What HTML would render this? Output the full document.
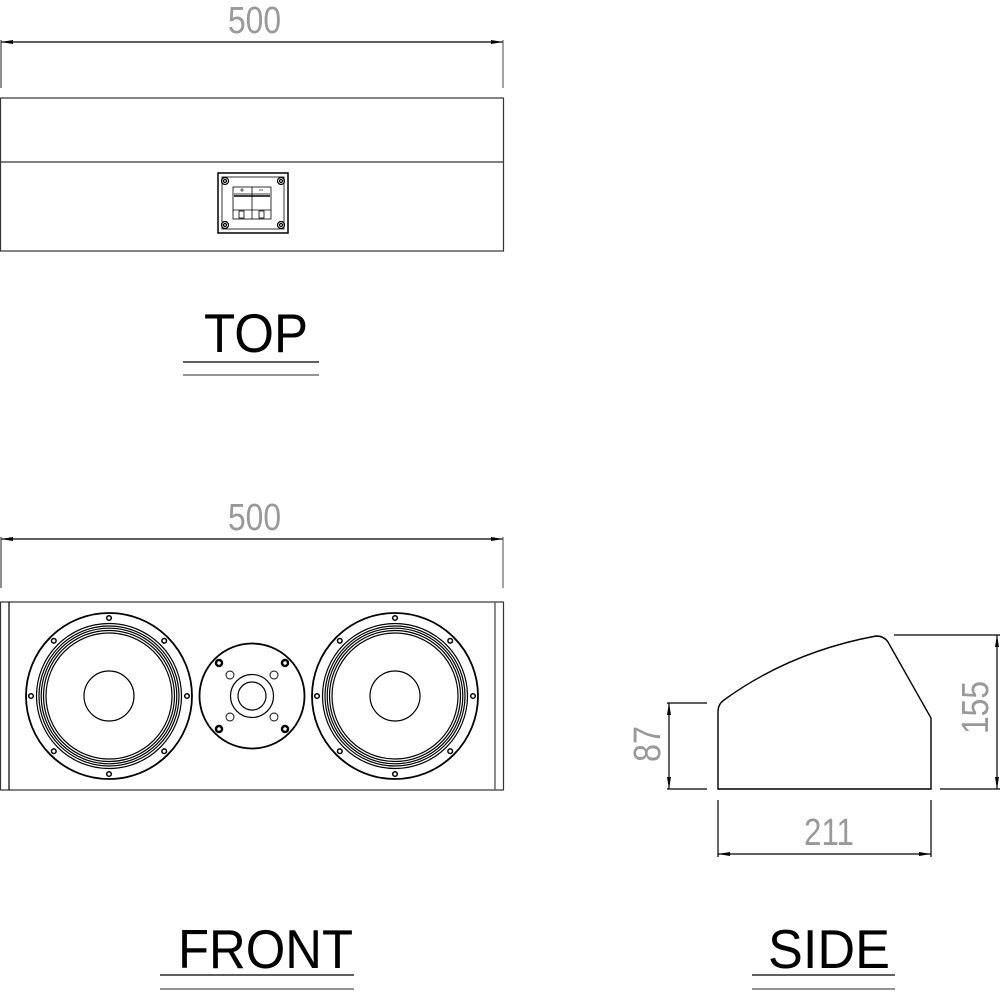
<!DOCTYPE html>
<html><head><meta charset="utf-8"><style>
html,body{margin:0;padding:0;background:#fff}
svg{display:block}
.t{font-family:"Liberation Sans",sans-serif}
</style></head><body>
<svg width="1000" height="991" viewBox="0 0 1000 991" xmlns="http://www.w3.org/2000/svg">
<defs>
<marker id="a" viewBox="0 0 12 4" refX="12" refY="2" markerWidth="12" markerHeight="4" orient="auto-start-reverse" markerUnits="userSpaceOnUse"><path d="M0,0 L12,2 L0,4 z" fill="#000"/></marker>
</defs>
<g fill="none" stroke="#000" stroke-width="1.2">
<line x1="1" y1="42" x2="503" y2="42" marker-start="url(#a)" marker-end="url(#a)"/>
<line x1="1" y1="40" x2="1" y2="88" stroke="#444"/>
<line x1="503" y1="40" x2="503" y2="88" stroke="#666"/>
<rect x="0.5" y="98" width="503" height="153" stroke="#333"/>
<line x1="0" y1="162" x2="504" y2="162" stroke="#333"/>
<rect x="218" y="173" width="70" height="60" stroke-width="1.5"/>
<rect x="222" y="177" width="62" height="52" stroke-width="0.8"/>
<circle cx="225" cy="181" r="3.5"/><circle cx="225" cy="181" r="1.5"/>
<circle cx="281" cy="181" r="3.5"/><circle cx="281" cy="181" r="1.5"/>
<circle cx="225" cy="225" r="3.5"/><circle cx="225" cy="225" r="1.5"/>
<circle cx="281" cy="225" r="3.5"/><circle cx="281" cy="225" r="1.5"/>
<rect x="233" y="187" width="38" height="32" stroke-width="0.8"/>
<line x1="252" y1="187" x2="252" y2="219" stroke-width="0.8"/>
<line x1="234" y1="194" x2="270" y2="194" stroke-width="0.8"/>
<line x1="234" y1="196" x2="270" y2="196" stroke-width="1.5"/>
<line x1="233" y1="210" x2="271" y2="210" stroke-width="0.8"/>
<rect x="239" y="211" width="5" height="7" stroke-width="0.8"/>
<rect x="259" y="211" width="5" height="7" stroke-width="0.8"/>
<line x1="240" y1="190" x2="244" y2="190" stroke-width="0.6"/><line x1="242" y1="188" x2="242" y2="192" stroke-width="0.6"/>
<line x1="259" y1="190" x2="263" y2="190" stroke-width="0.6"/>
<line x1="183" y1="362" x2="319" y2="362"/>
<line x1="183" y1="375" x2="319" y2="375" stroke="#555"/>
<line x1="1" y1="539" x2="503" y2="539" marker-start="url(#a)" marker-end="url(#a)"/>
<line x1="1" y1="537" x2="1" y2="588" stroke="#444"/>
<line x1="503" y1="537" x2="503" y2="588" stroke="#666"/>
<rect x="0.5" y="602" width="503" height="188" stroke="#333"/>
<line x1="9" y1="602" x2="9" y2="790"/>
<line x1="495" y1="602" x2="495" y2="790" stroke="#666" stroke-width="1.5"/>
<g id="w">
<circle cx="109" cy="696" r="83" stroke-width="1.8"/>
<circle cx="109" cy="696" r="72.5"/>
<circle cx="109" cy="696" r="70"/>
<circle cx="109" cy="696" r="67.8"/>
<circle cx="109" cy="696" r="65.5"/>
<circle cx="109" cy="696" r="63"/>
<circle cx="109" cy="696" r="25"/>
<g stroke-width="1.5">
<circle cx="109" cy="618" r="2.3"/><circle cx="109" cy="774" r="2.3"/>
<circle cx="31" cy="696" r="2.3"/><circle cx="187" cy="696" r="2.3"/>
<circle cx="53.8" cy="640.8" r="2.3"/><circle cx="164.2" cy="640.8" r="2.3"/>
<circle cx="53.8" cy="751.2" r="2.3"/><circle cx="164.2" cy="751.2" r="2.3"/>
</g>
</g>
<use href="#w" x="286"/>
<circle cx="252" cy="696" r="52.5" stroke-width="1.8"/>
<circle cx="252" cy="696" r="21.5"/>
<circle cx="252" cy="696" r="14"/>
<g stroke-width="2.5"><circle cx="219" cy="663" r="3"/><circle cx="285" cy="663" r="3"/><circle cx="219" cy="729" r="3"/><circle cx="285" cy="729" r="3"/></g>
<g stroke-width="0.9"><circle cx="230" cy="675" r="4"/><circle cx="274" cy="675" r="4"/><circle cx="230" cy="717" r="4"/><circle cx="274" cy="717" r="4"/></g>
<line x1="160" y1="975" x2="354" y2="975"/>
<line x1="160" y1="989" x2="354" y2="989" stroke="#555"/>
<path d="M718,789 L718,712 Q718,704 724,700 Q790,652 876,636 Q884,636 888,642 L931,718 L931,789 Z" stroke-width="1.4"/>
<line x1="667" y1="703" x2="707" y2="703"/>
<line x1="667" y1="789" x2="707" y2="789"/>
<line x1="669" y1="703" x2="669" y2="789" marker-start="url(#a)" marker-end="url(#a)"/>
<line x1="894" y1="635" x2="1000" y2="635"/>
<line x1="940" y1="789" x2="1000" y2="789"/>
<line x1="997" y1="635" x2="997" y2="789" marker-start="url(#a)" marker-end="url(#a)"/>
<line x1="718" y1="800" x2="718" y2="857"/>
<line x1="931" y1="800" x2="931" y2="857"/>
<line x1="718" y1="854" x2="931" y2="854" marker-start="url(#a)" marker-end="url(#a)"/>
<line x1="752" y1="975" x2="895" y2="975"/>
<line x1="752" y1="989" x2="895" y2="989" stroke="#555"/>
</g>
<g class="t" fill="#999" font-size="38">
<text x="228" y="33" textLength="53" lengthAdjust="spacingAndGlyphs">500</text>
<text x="228" y="530" textLength="53" lengthAdjust="spacingAndGlyphs">500</text>
<text x="804" y="845" textLength="50" lengthAdjust="spacingAndGlyphs">211</text>
<text transform="translate(660,762) rotate(-90)" textLength="36" lengthAdjust="spacingAndGlyphs">87</text>
<text transform="translate(988,734) rotate(-90)" textLength="53" lengthAdjust="spacingAndGlyphs">155</text>
</g>
<g class="t" fill="#000" font-size="55">
<text x="204" y="352" textLength="104" lengthAdjust="spacingAndGlyphs">TOP</text>
<text x="178" y="968" textLength="175" lengthAdjust="spacingAndGlyphs">FRONT</text>
<text x="768" y="968" textLength="122" lengthAdjust="spacingAndGlyphs">SIDE</text>
</g>
</svg>
</body></html>
